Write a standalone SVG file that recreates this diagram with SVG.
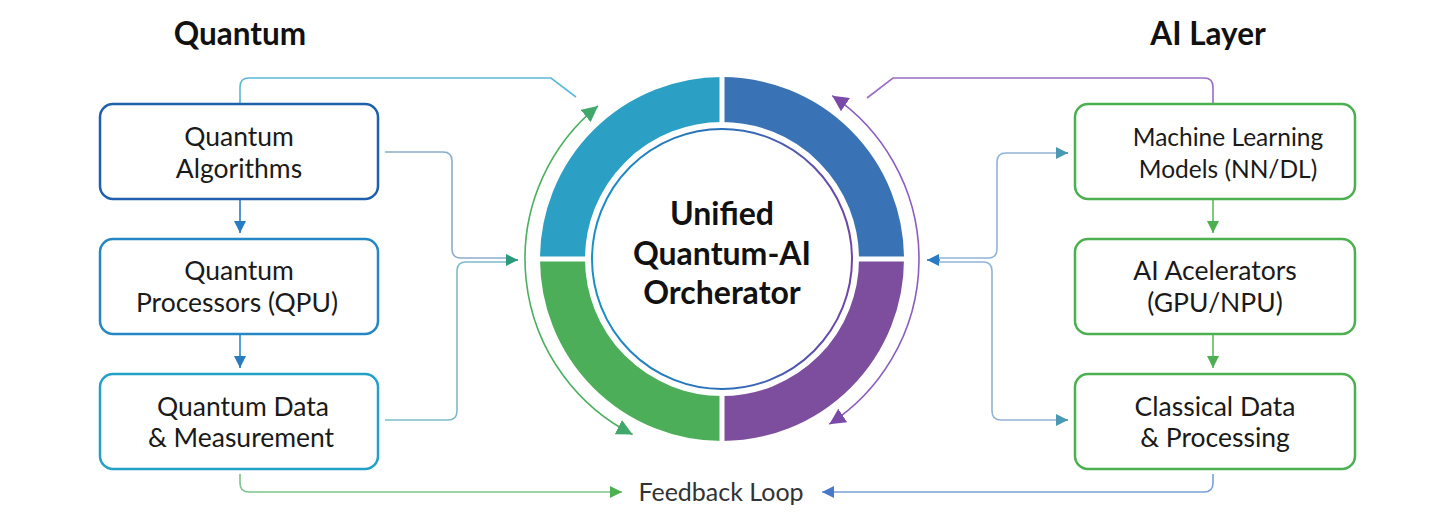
<svg xmlns="http://www.w3.org/2000/svg" width="1440" height="516" viewBox="0 0 1440 516">
<defs>
<style>
.hdr{font-family:Lato,"Liberation Sans",sans-serif;font-weight:700;font-size:31.5px;fill:#111;text-anchor:middle}
.bt{font-family:Lato,"Liberation Sans",sans-serif;font-size:26.5px;fill:#1a1a1a;text-anchor:middle}
.ct{font-family:Lato,"Liberation Sans",sans-serif;font-weight:700;font-size:32px;fill:#111;text-anchor:middle}
.box{fill:#fff;stroke-width:2.5}
.ln{fill:none;stroke-width:1.6}
</style>
<linearGradient id="ig" x1="0" y1="0" x2="1" y2="0">
<stop offset="0" stop-color="#1a8fc4"/><stop offset="0.5" stop-color="#2a6fb8"/><stop offset="1" stop-color="#7044a8"/>
</linearGradient>
<marker id="aTeal" viewBox="0 0 10 10" refX="10" refY="5" markerWidth="12" markerHeight="12" markerUnits="userSpaceOnUse" orient="auto-start-reverse"><path d="M0,0 L10,5 L0,10 z" fill="#2a9a7c"/></marker>
<marker id="aBlue" viewBox="0 0 10 10" refX="10" refY="5" markerWidth="12" markerHeight="12" markerUnits="userSpaceOnUse" orient="auto-start-reverse"><path d="M0,0 L10,5 L0,10 z" fill="#2a7cc2"/></marker>
<marker id="aGreen" viewBox="0 0 10 10" refX="10" refY="5" markerWidth="12" markerHeight="12" markerUnits="userSpaceOnUse" orient="auto-start-reverse"><path d="M0,0 L10,5 L0,10 z" fill="#4cb050"/></marker>
<marker id="aArcG" viewBox="0 0 10 10" refX="10" refY="5" markerWidth="16" markerHeight="16" markerUnits="userSpaceOnUse" orient="auto-start-reverse"><path d="M0,0 L10,5 L0,10 z" fill="#3fa86a"/></marker>
<marker id="aArcP" viewBox="0 0 10 10" refX="10" refY="5" markerWidth="16" markerHeight="16" markerUnits="userSpaceOnUse" orient="auto-start-reverse"><path d="M0,0 L10,5 L0,10 z" fill="#7b4aa8"/></marker>
<marker id="aSteel" viewBox="0 0 10 10" refX="10" refY="5" markerWidth="12" markerHeight="12" markerUnits="userSpaceOnUse" orient="auto-start-reverse"><path d="M0,0 L10,5 L0,10 z" fill="#4a98b4"/></marker>
<marker id="aFb" viewBox="0 0 10 10" refX="10" refY="5" markerWidth="12" markerHeight="12" markerUnits="userSpaceOnUse" orient="auto-start-reverse"><path d="M0,0 L10,5 L0,10 z" fill="#4a78c8"/></marker>
</defs>
<rect width="1440" height="516" fill="#fff"/>

<text class="hdr" x="240" y="45">Quantum</text>
<text class="hdr" x="1208" y="45">AI Layer</text>

<g id="connectors">
<path class="ln" d="M240,104 V87 Q240,78 249,78 H551 L576,97" stroke="#5ab8d8"/>
<path class="ln" d="M867,98 L893,78 H1204 Q1213,78 1213,87 V104" stroke="#9b6cc4"/>
<path class="ln" d="M240,200 V233" stroke="#2a7cc2" marker-end="url(#aBlue)"/>
<path class="ln" d="M240,335 V368" stroke="#2a8cc8" marker-end="url(#aBlue)"/>
<path class="ln" d="M1213,200 V233" stroke="#5cbc60" marker-end="url(#aGreen)"/>
<path class="ln" d="M1213,335 V368" stroke="#5cbc60" marker-end="url(#aGreen)"/>
<path class="ln" d="M385,152 H443 Q452,152 452,161 V249 Q452,258 461,258 H512" stroke="#8cadcc"/>
<path class="ln" d="M385,420 H448 Q457,420 457,411 V271 Q457,262 466,262 H512" stroke="#7cbcc8"/>
<path class="ln" d="M506,260 H518" stroke="#2a9a7c" marker-end="url(#aTeal)"/>
<path class="ln" d="M1068,153 H1006 Q997,153 997,162 V249 Q997,258 988,258 H934" stroke="#90b4d4"/>
<path class="ln" d="M1068,420 H1001 Q992,420 992,411 V271 Q992,262 983,262 H934" stroke="#90b4d4"/>
<path class="ln" d="M1056,153 H1068" stroke="#4a98b4" marker-end="url(#aSteel)"/>
<path class="ln" d="M1056,420 H1068" stroke="#4a98b4" marker-end="url(#aSteel)"/>
<path class="ln" d="M940,260 H927" stroke="#2a7cc2" marker-end="url(#aBlue)"/>
<path class="ln" d="M240,474 V483 Q240,492 249,492 H622" stroke="#7cc48a" marker-end="url(#aGreen)"/>
<path class="ln" d="M1213,474 V483 Q1213,492 1204,492 H822" stroke="#7aa0d8" marker-end="url(#aFb)"/>
<path class="ln" d="M632.6,434.5 A197,197 0 0 1 598,105.9" stroke="#4cb060" marker-start="url(#aArcG)" marker-end="url(#aArcG)"/>
<path class="ln" d="M832.2,95.7 A197,197 0 0 1 829.3,424.2" stroke="#8a5cc0" marker-start="url(#aArcP)" marker-end="url(#aArcP)"/>
</g>

<g id="orchestrator">
<path d="M562.5,259 A159.5,159.5 0 0 1 722,99.5" fill="none" stroke="#2b9fc4" stroke-width="45"/>
<path d="M722,99.5 A159.5,159.5 0 0 1 881.5,259" fill="none" stroke="#3a72b6" stroke-width="45"/>
<path d="M881.5,259 A159.5,159.5 0 0 1 722,418.5" fill="none" stroke="#7d4e9e" stroke-width="45"/>
<path d="M722,418.5 A159.5,159.5 0 0 1 562.5,259" fill="none" stroke="#4cae58" stroke-width="45"/>
<path d="M722,72 V446 M535,259 H909" stroke="#fff" stroke-width="5"/>
<circle cx="722" cy="259" r="130" fill="#fff" stroke="url(#ig)" stroke-width="2"/>
<text class="ct" x="722" y="225">Unified</text>
<text class="ct" x="722" y="265">Quantum-AI</text>
<text class="ct" x="722" y="304">Orcherator</text>
</g>

<g id="q-alg">
<rect class="box" x="100" y="104" width="278" height="95" rx="13" stroke="#1f5fae"/>
<text class="bt" x="239" y="146">Quantum</text>
<text class="bt" x="239" y="178">Algorithms</text>
</g>
<g id="q-proc">
<rect class="box" x="100" y="239" width="278" height="95" rx="13" stroke="#2586c4"/>
<text class="bt" x="239" y="280">Quantum</text>
<text class="bt" x="237" y="312">Processors (QPU)</text>
</g>
<g id="q-data">
<rect class="box" x="100" y="374" width="278" height="95" rx="13" stroke="#22a0c8"/>
<text class="bt" x="243" y="416">Quantum Data</text>
<text class="bt" x="241" y="447">&amp; Measurement</text>
</g>
<g id="ml">
<rect class="box" x="1075" y="104" width="280" height="95" rx="13" stroke="#4caf50"/>
<text class="bt" x="1228" y="146" style="font-size:24.5px">Machine Learning</text>
<text class="bt" x="1228" y="178" style="font-size:24.5px">Models (NN/DL)</text>
</g>
<g id="acc">
<rect class="box" x="1075" y="239" width="280" height="95" rx="13" stroke="#4caf50"/>
<text class="bt" x="1215" y="280">AI Acelerators</text>
<text class="bt" x="1215" y="312">(GPU/NPU)</text>
</g>
<g id="cdata">
<rect class="box" x="1075" y="374" width="280" height="95" rx="13" stroke="#4caf50"/>
<text class="bt" x="1215" y="416">Classical Data</text>
<text class="bt" x="1215" y="447">&amp; Processing</text>
</g>
<g id="feedback">
<text class="bt" x="721" y="501" style="font-size:25px;fill:#333">Feedback Loop</text>
</g>
</svg>
